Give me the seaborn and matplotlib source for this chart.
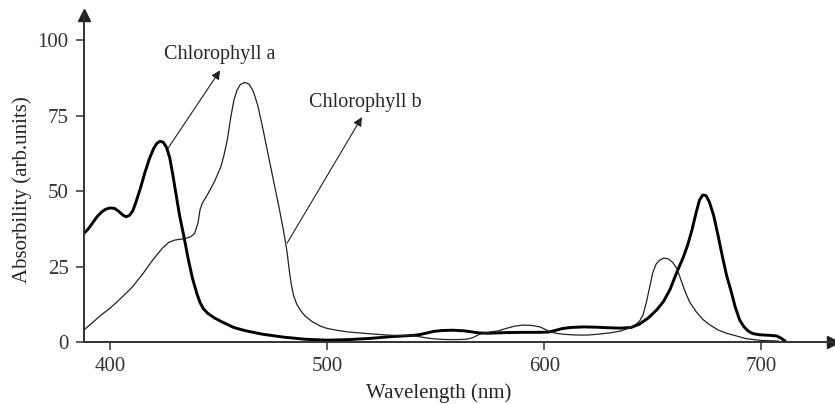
import numpy as np
import pandas as pd
import seaborn as sns
import matplotlib
matplotlib.use('Agg')
import matplotlib.pyplot as plt

# absorption spectra
wl_a = [388, 390, 392, 394, 396, 398, 400, 402, 404, 406, 407.5, 409, 410.5, 412, 414,
        416, 418, 420, 421.5, 423, 424.5, 426, 427.5, 429, 430.5, 432, 434, 436, 438,
        440, 441.5, 443, 445, 448, 452, 457, 462, 470, 480, 490, 500, 510, 520, 530,
        540, 543, 546, 549, 553, 558, 563, 567, 570, 574, 578, 582, 590, 598, 602,
        605, 608, 612, 618, 624, 630, 635, 640, 644, 648, 652, 655, 658, 661, 664,
        666, 668, 670, 671.5, 673, 674.5, 676, 678, 680, 682, 684, 686, 688, 690,
        692, 694, 696, 699, 704, 707, 709, 711]
abs_a = [36, 37.5, 39.5, 41.5, 43, 44, 44.4, 44.3, 43.3, 42, 41.5, 42, 43.5, 46.5, 51,
         56, 60.5, 64, 65.8, 66.5, 66.2, 64.5, 61, 55, 48.5, 42, 35, 27.5, 21,
         16, 13, 11, 9.5, 8, 6.5, 4.8, 3.8, 2.6, 1.6, 0.9, 0.6, 0.8, 1.2, 1.8,
         2.2, 2.5, 3.0, 3.5, 3.8, 3.9, 3.7, 3.3, 3.0, 2.9, 3.0, 3.1, 3.2, 3.2, 3.3,
         3.8, 4.4, 4.8, 5.0, 4.9, 4.7, 4.6, 4.8, 6.0, 8, 10.8, 13.5, 17.5, 23, 28,
         32, 37, 43, 47, 48.7, 48.5, 46.5, 42, 35.5, 28.5, 22, 17, 11.5, 7.3,
         5, 3.6, 2.8, 2.4, 2.2, 2.0, 1.3, 0.3]

wl_b = [388, 392, 396, 400, 405, 410, 415, 420, 424, 427, 430, 434, 437, 439, 440.5,
        441.5, 442.5, 445, 448, 451, 452.5, 454, 455.5, 457, 458.5, 460, 462, 464,
        466, 468, 470, 472, 474, 476, 478, 480, 481.5, 482.5, 483.5, 484.5, 486, 488,
        490, 493, 497, 500, 505, 510, 520, 530, 540, 543, 546, 550, 555, 560, 564,
        567, 570, 573, 576, 579, 582, 586, 590, 594, 598, 601, 603, 606, 610, 615,
        620, 625, 630, 635, 639, 642, 644, 645.5, 647, 648.5, 650, 651.5, 653, 655,
        657, 659, 661, 663, 665, 667, 670, 673, 676, 680, 684, 688, 693, 700, 708]
abs_b = [4, 6.5, 9, 11.2, 14.5, 18, 22.5, 27.5, 31, 33, 33.8, 34.2, 34.8, 36, 39.5,
         44, 46, 49, 53, 58, 62, 67, 74, 80, 83.5, 85.3, 86, 85.5,
         83, 78.5, 72, 65, 58, 51, 44, 36.5, 30, 24, 19, 15.5, 12.5, 10.2,
         8.5, 6.8, 5.2, 4.5, 3.8, 3.3, 2.7, 2.2, 2.0, 1.7, 1.3, 1.0, 0.8, 0.8, 0.9,
         1.4, 2.5, 3.1, 3.4, 3.7, 4.4, 5.2, 5.6, 5.5, 5.0, 4.0, 3.3, 2.8, 2.5, 2.3,
         2.3, 2.6, 3.0, 3.6, 4.6, 5.7, 7, 9, 13, 18, 23, 25.8, 27, 27.8,
         27.6, 26.5, 24.5, 20.5, 16.5, 13.2, 10, 7.5, 5.8, 4, 2.9, 2.1, 1.1, 0.5, 0.3]

x_ticks = [400, 500, 600, 700]
y_ticks = [0, 25, 50, 75, 100]

sns.set_style('ticks')
plt.rcParams['font.family'] = ['Liberation Serif', 'DejaVu Serif']

fig = plt.figure(figsize=(8.35, 4.04), dpi=100)
ax = fig.add_axes([0.1006, 0.1535, 0.897, 0.809])

sns.lineplot(x=wl_a, y=abs_a, ax=ax, color='black', linewidth=2.1, sort=False)
sns.lineplot(x=wl_b, y=abs_b, ax=ax, color='#222222', linewidth=0.9, sort=False)

ax.set_xlim(388, 733)
ax.set_ylim(0, 108.3)
ax.set_xticks(x_ticks)
ax.set_yticks(y_ticks)
ax.tick_params(labelsize=15, length=6, width=1.1, colors='#333333', pad=5)

for s in ['top', 'right']:
    ax.spines[s].set_visible(False)
for s in ['left', 'bottom']:
    ax.spines[s].set_linewidth(1.4)
    ax.spines[s].set_color('#333333')

# arrow heads on the axes
ax.plot(1, 0, '>', color='#222222', markersize=8, transform=ax.transAxes, clip_on=False)
ax.plot(0, 1, '^', color='#222222', markersize=8, transform=ax.transAxes, clip_on=False)

ax.set_xlabel('Wavelength (nm)', fontsize=15)
ax.set_ylabel('Absorbility (arb.units)', fontsize=15)
ax.xaxis.set_label_coords(0.474, -0.125)
ax.yaxis.set_label_coords(-0.07, 0.465)

arrow = dict(arrowstyle='-|>', lw=0.8, color='#222222', mutation_scale=13, shrinkA=0, shrinkB=0)
ax.annotate('', xy=(450.7, 90), xytext=(426.7, 64.2), arrowprops=arrow)
ax.annotate('', xy=(516, 74.5), xytext=(481.6, 32.8), arrowprops=arrow)
ax.text(450.5, 95.4, 'Chlorophyll a', fontsize=14.5, ha='center', va='center')
ax.text(517.5, 79.5, 'Chlorophyll b', fontsize=14.5, ha='center', va='center')

plt.savefig('out.png', dpi=100)
plt.close()
